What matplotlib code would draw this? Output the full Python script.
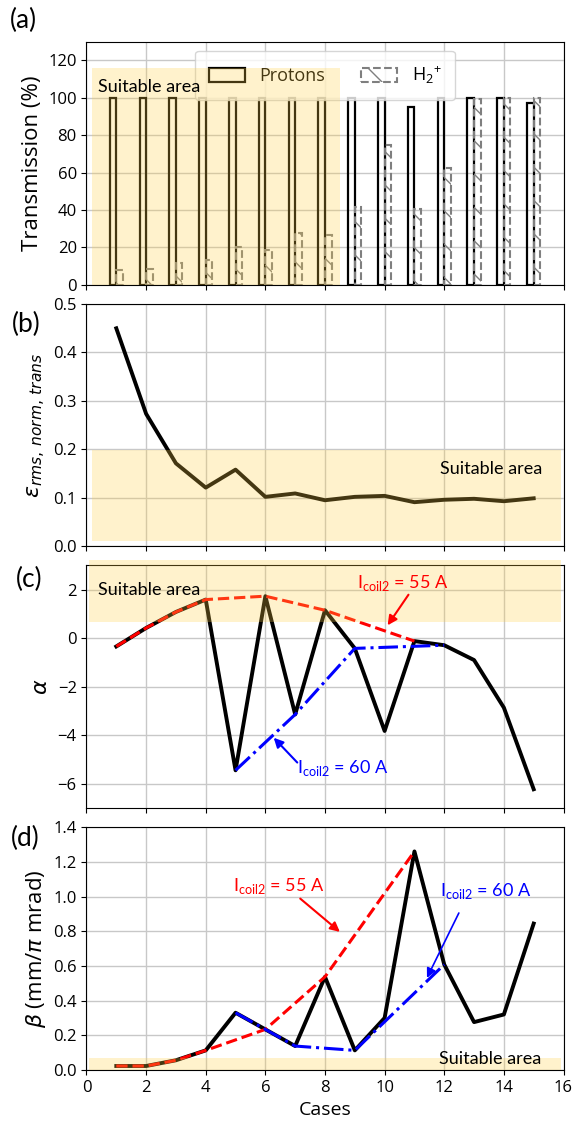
import matplotlib
matplotlib.use("Agg")
import matplotlib.pyplot as plt
from matplotlib.patches import Rectangle
import numpy as np

# ---------------- data ----------------
cases = [1, 2, 3, 4, 5, 6, 7, 8, 9, 10, 11, 12, 13, 14, 15]
protons = [100, 100, 100, 100, 100, 100, 100, 100, 100, 100, 95, 100, 100, 100, 97]
h2plus = [7.7, 8.2, 11.6, 13.4, 19.9, 18.5, 27.6, 26.5, 41.4, 74.5, 40.5, 62.5, 99.6, 100, 100]
emittance = [0.449, 0.273, 0.171, 0.121, 0.158, 0.102, 0.109, 0.095, 0.102, 0.104,
             0.091, 0.096, 0.098, 0.093, 0.099]
alpha = [-0.34, 0.42, 1.08, 1.59, -5.44, 1.73, -3.14, 1.15, -0.42, -3.82,
         -0.12, -0.29, -0.90, -2.86, -6.22]
beta = [0.023, 0.023, 0.056, 0.113, 0.33, 0.234, 0.138, 0.537, 0.113, 0.30,
        1.26, 0.608, 0.276, 0.32, 0.844]
cases_55A = [1, 2, 3, 4, 6, 8, 11]
cases_60A = [5, 7, 9, 12]

# ---------------- style ----------------
plt.rcParams['font.family'] = ['Open Sans', 'DejaVu Sans']
plt.rcParams['axes.unicode_minus'] = True
plt.rcParams['hatch.color'] = '#7f7f7f'
plt.rcParams['hatch.linewidth'] = 1.0
TICK = 12
LAB = 16
ANN_FONT = ['Lato', 'DejaVu Sans']
OV_COLOR = '#FFCF43'
OV_ALPHA = 0.27

fig, axes = plt.subplots(4, 1, figsize=(5.75, 11.25), dpi=100, sharex=True)
fig.subplots_adjust(left=0.1504, right=0.98, top=0.9629, bottom=0.0489, hspace=0.078)
ax_a, ax_b, ax_c, ax_d = axes


def overlay(ax, x0, x1, y0, y1):
    r = Rectangle((x0, y0), x1 - x0, y1 - y0, facecolor=OV_COLOR, alpha=OV_ALPHA,
                  edgecolor='none', zorder=10, clip_on=False)
    ax.add_patch(r)


def sub_idx(sel, vals):
    return [vals[cases.index(c)] for c in sel]


def note(ax, text, xy_text, start, end, color, lw=1.5):
    ax.text(xy_text[0], xy_text[1], text, color=color, fontsize=13, family=ANN_FONT,
            ha='center', va='center', zorder=11)
    ax.annotate('', xy=end, xytext=start, zorder=11,
                arrowprops=dict(arrowstyle='-|>', color=color, lw=lw, mutation_scale=14,
                                shrinkA=0, shrinkB=0))


for ax in axes:
    ax.grid(True, color='#c8c8c8', linewidth=1.0)
    ax.set_axisbelow(True)
    ax.tick_params(labelsize=TICK)
    ax.set_xlim(0, 16)

# ---------------- (a) ----------------
x = np.array(cases, dtype=float)
w = 0.22
ax_a.bar(x - w / 2, protons, width=w, facecolor='none', edgecolor='black', linewidth=1.6,
         label='Protons', zorder=3)
ax_a.bar(x + w / 2, h2plus, width=w, facecolor='none', edgecolor='#7f7f7f', linewidth=1.5,
         linestyle='--', hatch='\\', label=r'H$_\mathregular{2}$$^\mathregular{+}$', zorder=3)
ax_a.set_ylim(0, 130)
ax_a.set_yticks([0, 20, 40, 60, 80, 100, 120])
ax_a.set_ylabel('Transmission (%)', fontsize=LAB)
leg = ax_a.legend(loc='upper center', ncol=2, fontsize=13, columnspacing=2.0,
                  handlelength=2.0, handleheight=0.8, borderaxespad=0.5, borderpad=0.75)
overlay(ax_a, 0.2, 8.5, 0, 115.7)
ax_a.text(0.4, 106, 'Suitable area', fontsize=13, family=ANN_FONT, va='center', ha='left', zorder=11)

# ---------------- (b) ----------------
ax_b.plot(cases, emittance, color='black', linewidth=2.8, zorder=3)
ax_b.set_ylim(0, 0.5)
ax_b.set_yticks([0.0, 0.1, 0.2, 0.3, 0.4, 0.5])
ax_b.set_ylabel(r'$\varepsilon_{rms,\,norm,\,trans}$', fontsize=LAB)
overlay(ax_b, 0.2, 15.9, 0.012, 0.198)
ax_b.text(15.3, 0.16, 'Suitable area', fontsize=13, family=ANN_FONT, va='center', ha='right', zorder=11)

# ---------------- (c) ----------------
ax_c.plot(cases, alpha, color='black', linewidth=2.8, zorder=3)
ax_c.plot(cases_55A, sub_idx(cases_55A, alpha), color='red', linestyle='--', linewidth=2.2, zorder=4)
ax_c.plot(cases_60A, sub_idx(cases_60A, alpha), color='blue', linestyle='-.', linewidth=2.2, zorder=4)
ax_c.set_ylim(-7, 3)
ax_c.set_yticks([-6, -4, -2, 0, 2])
ax_c.set_ylabel(r'$\alpha$', fontsize=LAB)
overlay(ax_c, 0.09, 15.9, 0.67, 3.23)
ax_c.text(0.4, 2.0, 'Suitable area', fontsize=13, family=ANN_FONT, va='center', ha='left', zorder=11)
note(ax_c, r'I$_\mathregular{coil2}$ = 55 A', (10.6, 2.27), (10.8, 1.79), (10.1, 0.53), 'red')
note(ax_c, r'I$_\mathregular{coil2}$ = 60 A', (8.6, -5.33), (7.07, -5.12), (6.28, -4.10), 'blue')

# ---------------- (d) ----------------
ax_d.plot(cases, beta, color='black', linewidth=2.8, zorder=3)
ax_d.plot(cases_55A, sub_idx(cases_55A, beta), color='red', linestyle='--', linewidth=2.2, zorder=4)
ax_d.plot(cases_60A, sub_idx(cases_60A, beta), color='blue', linestyle='-.', linewidth=2.2, zorder=4)
ax_d.set_ylim(0, 1.4)
ax_d.set_yticks([0.0, 0.2, 0.4, 0.6, 0.8, 1.0, 1.2, 1.4])
ax_d.set_xticks(range(0, 17, 2))
ax_d.set_xlabel('Cases', fontsize=14)
ax_d.set_ylabel(r'$\beta$ (mm/$\pi$ mrad)', fontsize=LAB)
overlay(ax_d, 0.09, 15.9, 0, 0.067)
ax_d.text(15.25, 0.062, 'Suitable area', fontsize=13, family=ANN_FONT, va='center', ha='right', zorder=11)
note(ax_d, r'I$_\mathregular{coil2}$ = 55 A', (6.45, 1.06), (7.17, 0.988), (8.5, 0.796), 'red')
note(ax_d, r'I$_\mathregular{coil2}$ = 60 A', (13.4, 1.03), (12.49, 0.905), (11.42, 0.531), 'blue', lw=1.2)

# panel labels
for lab, (px, py) in zip(['(a)', '(b)', '(c)', '(d)'],
                         [(23, 20), (26, 324), (29, 579), (25, 838)]):
    fig.text(px / 575, 1 - py / 1125, lab, fontsize=19, family=ANN_FONT, ha='center', va='center')

fig.savefig('out.png', dpi=100)
